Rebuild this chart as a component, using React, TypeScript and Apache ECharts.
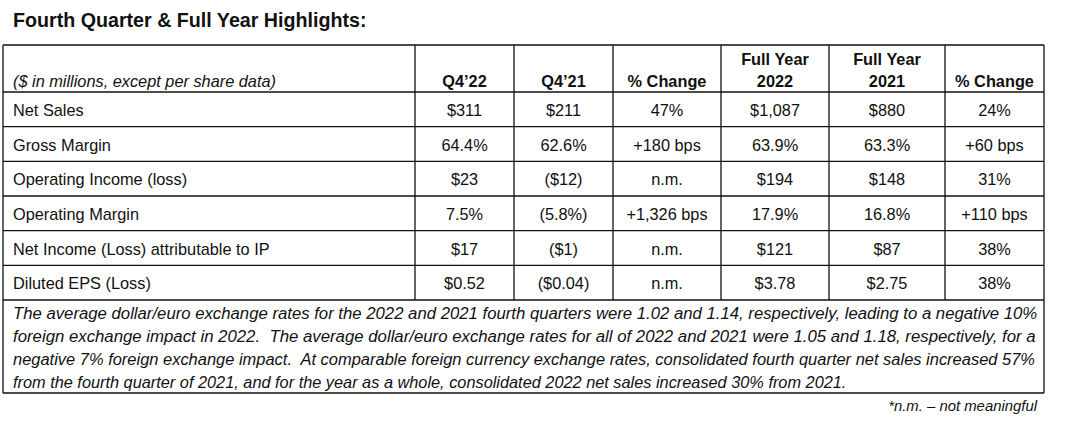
import React, { useEffect, useRef } from "react";
import * as echarts from "echarts";

// ---------- data ----------
const title = "Fourth Quarter & Full Year Highlights:";
const unitNote = "($ in millions, except per share data)";
const columnHeaders: string[][] = [
  ["Q4’22"],
  ["Q4’21"],
  ["% Change"],
  ["Full Year", "2022"],
  ["Full Year", "2021"],
  ["% Change"],
];
const metrics = [
  "Net Sales",
  "Gross Margin",
  "Operating Income (loss)",
  "Operating Margin",
  "Net Income (Loss) attributable to IP",
  "Diluted EPS (Loss)",
];
const q4_2022 = ["$311", "64.4%", "$23", "7.5%", "$17", "$0.52"];
const q4_2021 = ["$211", "62.6%", "($12)", "(5.8%)", "($1)", "($0.04)"];
const q4Change = ["47%", "+180 bps", "n.m.", "+1,326 bps", "n.m.", "n.m."];
const fy2022 = ["$1,087", "63.9%", "$194", "17.9%", "$121", "$3.78"];
const fy2021 = ["$880", "63.3%", "$148", "16.8%", "$87", "$2.75"];
const fyChange = ["24%", "+60 bps", "31%", "+110 bps", "38%", "38%"];
const footnoteLines = [
  "The average dollar/euro exchange rates for the 2022 and 2021 fourth quarters were 1.02 and 1.14, respectively, leading to a negative 10%",
  "foreign exchange impact in 2022.  The average dollar/euro exchange rates for all of 2022 and 2021 were 1.05 and 1.18, respectively, for a",
  "negative 7% foreign exchange impact.  At comparable foreign currency exchange rates, consolidated fourth quarter net sales increased 57%",
  "from the fourth quarter of 2021, and for the year as a whole, consolidated 2022 net sales increased 30% from 2021.",
];
const footnoteJustified = [true, true, true, false];
const nmNote = "*n.m. – not meaningful";

// ---------- layout ----------
const COL_X = [3, 415, 514, 613, 721, 829, 945, 1044];
const TABLE_TOP = 45;
const HEADER_BOTTOM = 92;
const ROW_H = 34.67;
const FOOT_BOTTOM = 393;
const FOOT_LINE_Y0 = 313;
const FOOT_LINE_H = 23;
const TEXT_LEFT = 13;
const JUSTIFY_RIGHT = 1037;
const FAMILY = '"Liberation Sans", Arial, sans-serif';
const BODY_SIZE = 17;
const SX = 0.96;
const INK = "#111111";
const LINE_W = 1.3;

const measureCtx = (() => {
  const c = document.createElement("canvas");
  return c.getContext("2d") as CanvasRenderingContext2D;
})();
function measure(text: string, font: string) {
  measureCtx.font = font;
  return measureCtx.measureText(text).width;
}

function txt(
  text: string,
  x: number,
  y: number,
  opts: { size?: number; weight?: string; style?: string; align?: string; scaleX?: number } = {}
) {
  const size = opts.size ?? BODY_SIZE;
  const weight = opts.weight ?? "normal";
  const fstyle = opts.style ?? "normal";
  const align = opts.align ?? "center";
  return {
    type: "text",
    x,
    y,
    scaleX: opts.scaleX ?? SX,
    silent: true,
    style: {
      text,
      fill: INK,
      font: `${fstyle} ${weight} ${size}px ${FAMILY}`,
      textAlign: align,
      textVerticalAlign: "middle",
      align,
      verticalAlign: "middle",
    },
  };
}

function line(x1: number, y1: number, x2: number, y2: number) {
  return {
    type: "line",
    silent: true,
    shape: { x1, y1, x2, y2 },
    style: { stroke: INK, lineWidth: LINE_W },
  };
}

function buildGraphic() {
  const els: any[] = [];
  const rows = [q4_2022, q4_2021, q4Change, fy2022, fy2021, fyChange];
  const tableBottom = HEADER_BOTTOM + ROW_H * metrics.length;
  const left = COL_X[0];
  const right = COL_X[COL_X.length - 1];

  // Title
  const titleFont = `normal bold 20px ${FAMILY}`;
  const titleW = measure(title, titleFont);
  els.push(txt(title, TEXT_LEFT, 19.7, { size: 20, weight: "bold", align: "left", scaleX: 354 / titleW }));

  // Outer border
  els.push(line(left, TABLE_TOP, right, TABLE_TOP));
  els.push(line(left, TABLE_TOP, left, FOOT_BOTTOM));
  els.push(line(right, TABLE_TOP, right, FOOT_BOTTOM));
  els.push(line(left, FOOT_BOTTOM, right, FOOT_BOTTOM));

  // Inner vertical lines
  for (let i = 1; i < COL_X.length - 1; i++) {
    els.push(line(COL_X[i], TABLE_TOP, COL_X[i], tableBottom));
  }
  // Horizontal lines
  for (let r = 0; r <= metrics.length; r++) {
    const y = HEADER_BOTTOM + ROW_H * r;
    els.push(line(left, y, right, y));
  }

  // Header
  els.push(txt(unitNote, TEXT_LEFT, 81, { style: "italic", align: "left" }));
  columnHeaders.forEach((h, i) => {
    const cx = (COL_X[i + 1] + COL_X[i + 2]) / 2;
    if (h.length === 1) {
      els.push(txt(h[0], cx, 81, { weight: "bold" }));
    } else {
      els.push(txt(h[0], cx, 59, { weight: "bold" }));
      els.push(txt(h[1], cx, 81, { weight: "bold" }));
    }
  });

  // Body
  metrics.forEach((m, r) => {
    const cy = HEADER_BOTTOM + ROW_H * r + ROW_H / 2 + 1;
    els.push(txt(m, TEXT_LEFT, cy, { align: "left" }));
    rows.forEach((col, c) => {
      const cx = (COL_X[c + 1] + COL_X[c + 2]) / 2;
      els.push(txt(col[r], cx, cy));
    });
  });

  // Footnote
  const footFont = `italic normal ${BODY_SIZE}px ${FAMILY}`;
  footnoteLines.forEach((l, i) => {
    const y = FOOT_LINE_Y0 + FOOT_LINE_H * i;
    let sx = SX;
    if (footnoteJustified[i]) {
      const w = measure(l, footFont);
      sx = (JUSTIFY_RIGHT - TEXT_LEFT) / w;
    }
    els.push(txt(l, TEXT_LEFT, y, { style: "italic", align: "left", scaleX: sx }));
  });

  els.push(txt(nmNote, JUSTIFY_RIGHT, 405, { style: "italic", align: "right", size: 15.5 }));

  return els;
}

export default function App() {
  const ref = useRef<HTMLDivElement>(null);
  useEffect(() => {
    if (!ref.current) return;
    const chart = echarts.init(ref.current, undefined, { renderer: "svg" });
    chart.setOption({
      animation: false,
      backgroundColor: "#ffffff",
      graphic: { elements: buildGraphic() },
    });
    return () => chart.dispose();
  }, []);
  return (
    <div
      ref={ref}
      style={{ position: "absolute", left: 0, top: 0, width: 1065, height: 428, background: "#fff" }}
    />
  );
}
